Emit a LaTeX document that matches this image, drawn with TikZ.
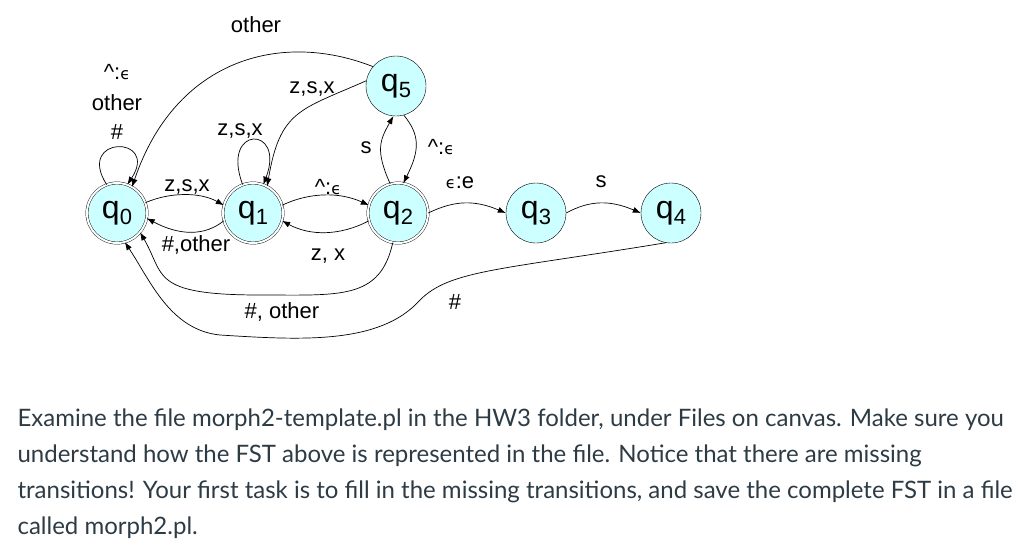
\documentclass[tikz,border=0pt]{standalone}
\usepackage{fontspec}
\setmainfont{Liberation Sans}
\newfontfamily\lato{Lato}
\newfontfamily\djv{DejaVu Sans}
\usetikzlibrary{arrows.meta}
\definecolor{txt}{HTML}{2D3B45}
\definecolor{nodefill}{HTML}{CCFFFF}
\newcommand{\qq}[1]{q\raisebox{-6pt}{\fontsize{22}{22}\selectfont #1}}
\newcommand{\eps}{{\djv\fontsize{16}{16}\selectfont ϵ}}
\begin{document}
\begin{tikzpicture}[x=1pt,y=-1pt,
  st/.style={circle,draw,fill=nodefill,minimum size=60pt,inner sep=0pt,font=\fontsize{32}{32}\selectfont},
  acc/.style={st,double,double distance=2pt},
  e/.style={draw,-{Latex[length=8pt,width=6pt]},line width=0.7pt},
  lb/.style={font=\fontsize{22}{24}\selectfont},
  para/.style={anchor=west,text=txt,font=\lato\fontsize{24}{26}\selectfont}]
\useasboundingbox (0,0) rectangle (1024,549);
\node[acc] (q0) at (117,213) {\qq{0}};
\node[acc] (q1) at (253,213) {\qq{1}};
\node[acc] (q2) at (398,213) {\qq{2}};
\node[st] (q3) at (536,213) {\qq{3}};
\node[st] (q4) at (671,213) {\qq{4}};
\node[st] (q5) at (396,86) {\qq{5}};
% labels
\node[lb] (l0a) at (117,72) {\textasciicircum:\eps};
\node[lb] (l0b) at (117,103) {other};
\node[lb] (l0c) at (117,132) {\#};
\node[lb] (l1) at (240,131) {z,s,x};
\node[lb] (l01) at (187,187) {z,s,x};
\node[lb] (l10) at (196,245) {\#,other};
\node[lb] (l12) at (328,187) {\textasciicircum:\eps};
\node[lb] (l21) at (328,256) {z, x};
\node[lb] (l51) at (312,89) {z,s,x};
\node[lb] (l50) at (256,25) {other};
\node[lb] (l25) at (366,148) {s};
\node[lb] (l52) at (441,147) {\textasciicircum:\eps};
\node[lb] (l23) at (460,183) {\eps:e};
\node[lb] (l34) at (601,182) {s};
\node[lb] (l20) at (282,312) {\#, other};
\node[lb] (l40) at (455,302) {\#};
% edges
\draw[e] (q0.110) .. controls (75,135) and (160,135) .. (q0.70);
\draw[e] (q1.110) .. controls (220,125) and (286,125) .. (q1.70);
\draw[e] (q0.20) .. controls (170,192) and (200,192) .. (q1.165);
\draw[e] (q1.195) .. controls (205,236) and (180,236) .. (q0.-10);
\draw[e] (q1.15) .. controls (310,192) and (340,192) .. (q2.165);
\draw[e] (q2.195) .. controls (340,236) and (310,236) .. (q1.-15);
\draw[e] (q2.105) .. controls (375,150) and (380,140) .. (q5.-95);
\draw[e] (q5.-75) .. controls (420,135) and (420,150) .. (q2.80);
\draw[e] (q5.170) .. controls (300,110) and (280,110) .. (q1.62);
\draw[e] (q5.140) .. controls (280,30) and (175,60) .. (q0.60);
\draw[e] (q2.0) .. controls (455,200) and (475,200) .. (q3.180);
\draw[e] (q3.0) .. controls (590,200) and (610,200) .. (q4.180);
\draw[e] (q2.-100) .. controls (380,300) and (340,295) .. (260,295)
  .. controls (150,295) and (165,275) .. (q0.-40);
\draw[e] (q4.-100) .. controls (500,270) and (450,270) .. (420,300)
  .. controls (380,345) and (300,340) .. (220,335)
  .. controls (170,330) and (150,280) .. (q0.-75);
% paragraph
\node[para] (p1) at (14,420) {Examine the file morph2-template.pl in the HW3 folder, under Files on canvas. Make sure you};
\node[para] (p2) at (14,456) {understand how the FST above is represented in the file. Notice that there are missing};
\node[para] (p3) at (14,492) {transitions! Your first task is to fill in the missing transitions, and save the complete FST in a file};
\node[para] (p4) at (14,528) {called morph2.pl.};
\end{tikzpicture}
\end{document}
